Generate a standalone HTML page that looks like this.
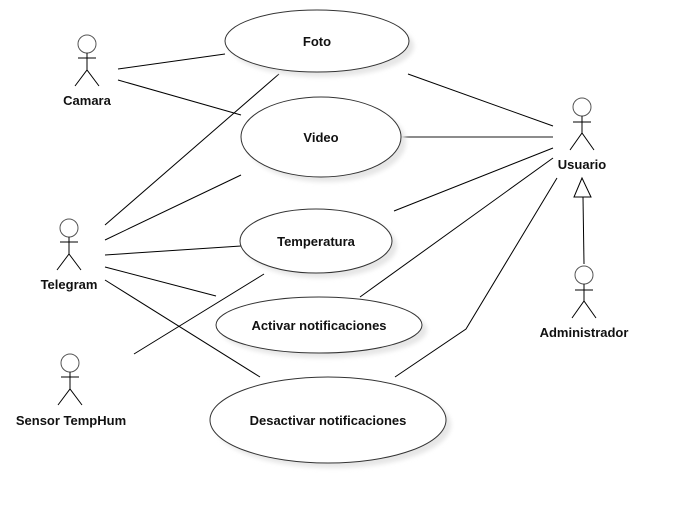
<!DOCTYPE html>
<html><head><style>
html,body{margin:0;padding:0;background:#fff;}
svg{display:block;}
text{font-family:"Liberation Sans",sans-serif;font-weight:bold;font-size:13px;fill:#111;text-anchor:middle;}
</style></head><body>
<svg width="673" height="505" viewBox="0 0 673 505" xmlns="http://www.w3.org/2000/svg">
<defs><filter id="sh" x="-10%" y="-10%" width="130%" height="140%"><feGaussianBlur stdDeviation="2"/></filter></defs>
<g stroke="#000" stroke-width="1" fill="none">
<line x1="118" y1="69" x2="225" y2="54"/>
<line x1="118" y1="80" x2="241" y2="115"/>
<line x1="105" y1="225" x2="279" y2="74"/>
<line x1="105" y1="240" x2="241" y2="175"/>
<line x1="105" y1="255" x2="241" y2="246"/>
<line x1="105" y1="267" x2="216" y2="296"/>
<line x1="105" y1="280" x2="260" y2="377"/>
<line x1="134" y1="354" x2="264" y2="274"/>
<line x1="408" y1="74" x2="553" y2="126"/>
<line x1="401" y1="137" x2="553" y2="137" stroke="#666" stroke-width="1.5"/>
<line x1="394" y1="211" x2="553" y2="148"/>
<line x1="360" y1="297" x2="553" y2="158"/>
<polyline points="395,377 466,329 557,178"/>
<line x1="583" y1="197" x2="584" y2="264"/>
<polygon points="582,178 574,197 591,197" fill="#fff"/>
</g>
<g fill="#e6e6e6" filter="url(#sh)">
<ellipse cx="322" cy="46" rx="92" ry="31"/>
<ellipse cx="326" cy="142" rx="80" ry="40"/>
<ellipse cx="321" cy="246" rx="76" ry="32"/>
<ellipse cx="324" cy="330" rx="103" ry="28"/>
<ellipse cx="333" cy="425" rx="118" ry="43"/>
</g>
<g fill="#fff" stroke="#333" stroke-width="1">
<ellipse cx="317" cy="41" rx="92" ry="31"/>
<ellipse cx="321" cy="137" rx="80" ry="40"/>
<ellipse cx="316" cy="241" rx="76" ry="32"/>
<ellipse cx="319" cy="325" rx="103" ry="28"/>
<ellipse cx="328" cy="420" rx="118" ry="43"/>
</g>
<text x="317" y="46">Foto</text>
<text x="321" y="142">Video</text>
<text x="316" y="246">Temperatura</text>
<text x="319" y="330">Activar notificaciones</text>
<text x="328" y="425">Desactivar notificaciones</text>
<g stroke="#000" stroke-width="1" fill="#fff">
<g transform="translate(87,44)"><circle r="9" stroke="#555"/><line x1="0" y1="9" x2="0" y2="26"/><line x1="-9" y1="14" x2="9" y2="14"/><polyline points="-12,42 0,26 12,42" fill="none"/></g>
<g transform="translate(69,228)"><circle r="9" stroke="#555"/><line x1="0" y1="9" x2="0" y2="26"/><line x1="-9" y1="14" x2="9" y2="14"/><polyline points="-12,42 0,26 12,42" fill="none"/></g>
<g transform="translate(70,363)"><circle r="9" stroke="#555"/><line x1="0" y1="9" x2="0" y2="26"/><line x1="-9" y1="14" x2="9" y2="14"/><polyline points="-12,42 0,26 12,42" fill="none"/></g>
<g transform="translate(582,107)"><circle r="9" stroke="#555"/><line x1="0" y1="9" x2="0" y2="26"/><line x1="-9" y1="15" x2="9" y2="15"/><polyline points="-12,43 0,26 12,43" fill="none"/></g>
<g transform="translate(584,275)"><circle r="9" stroke="#555"/><line x1="0" y1="9" x2="0" y2="26"/><line x1="-9" y1="15" x2="9" y2="15"/><polyline points="-12,43 0,26 12,43" fill="none"/></g>
</g>
<text x="87" y="105">Camara</text>
<text x="69" y="289">Telegram</text>
<text x="71" y="425">Sensor TempHum</text>
<text x="582" y="169">Usuario</text>
<text x="584" y="337">Administrador</text>
</svg>
</body></html>
